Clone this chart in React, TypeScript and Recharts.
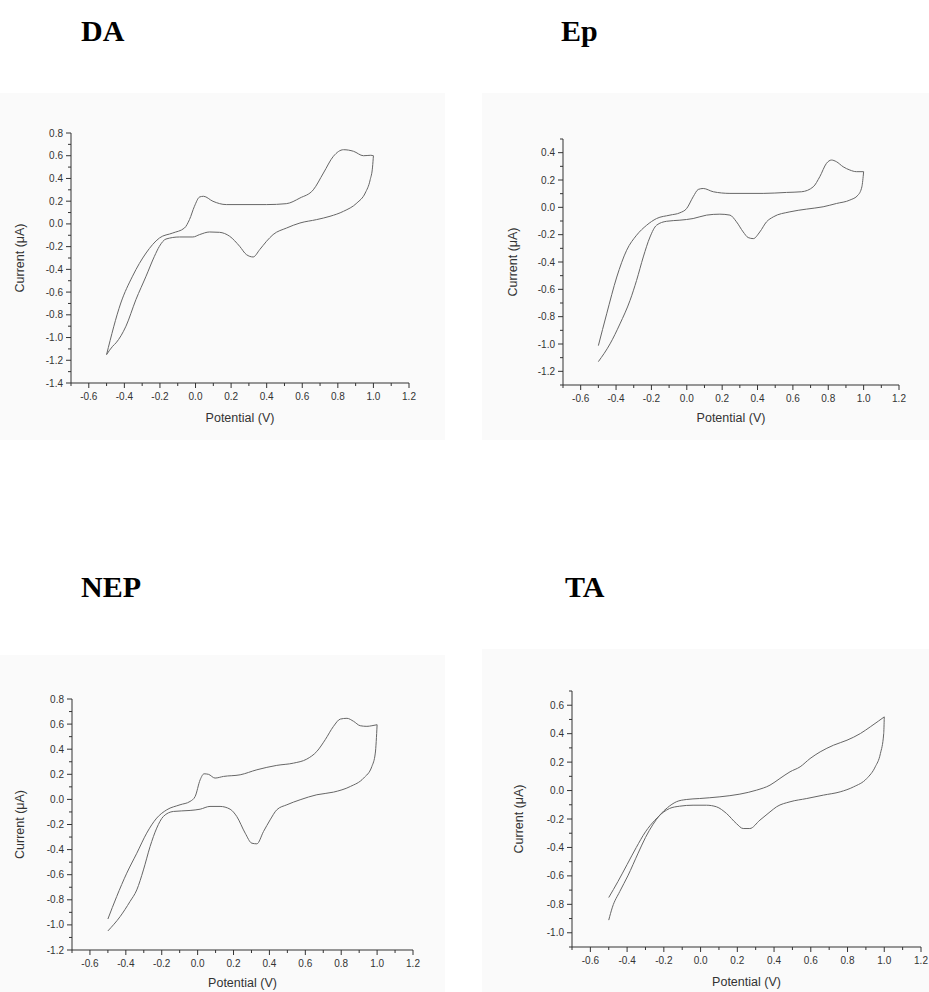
import React from 'react';
import { LineChart, Line, XAxis, YAxis, Label } from 'recharts';

// ---- shared axis ticks ----
const xTicks = [-0.7, -0.6, -0.5, -0.4, -0.3, -0.2, -0.1, 0, 0.1, 0.2, 0.3, 0.4, 0.5, 0.6, 0.7, 0.8, 0.9, 1.0, 1.1, 1.2];
const daYTicks = [-1.4, -1.3, -1.2, -1.1, -1.0, -0.9, -0.8, -0.7, -0.6, -0.5, -0.4, -0.3, -0.2, -0.1, 0, 0.1, 0.2, 0.3, 0.4, 0.5, 0.6, 0.7, 0.8];
const epYTicks = [-1.3, -1.2, -1.1, -1.0, -0.9, -0.8, -0.7, -0.6, -0.5, -0.4, -0.3, -0.2, -0.1, 0, 0.1, 0.2, 0.3, 0.4, 0.5];
const nepYTicks = [-1.2, -1.1, -1.0, -0.9, -0.8, -0.7, -0.6, -0.5, -0.4, -0.3, -0.2, -0.1, 0, 0.1, 0.2, 0.3, 0.4, 0.5, 0.6, 0.7, 0.8];
const taYTicks = [-1.1, -1.0, -0.9, -0.8, -0.7, -0.6, -0.5, -0.4, -0.3, -0.2, -0.1, 0, 0.1, 0.2, 0.3, 0.4, 0.5, 0.6, 0.7];

// ---- DA ----
const daFwdPotential = [-0.5, -0.42, -0.354, -0.278, -0.203, -0.128, -0.062, -0.034, -0.006, 0.023, 0.045, 0.098, 0.173, 0.4, 0.51, 0.587, 0.662, 0.719, 0.775, 0.832, 0.888, 0.944, 0.985, 1.0];
const daFwdCurrent = [-1.15, -0.696, -0.46, -0.256, -0.124, -0.08, -0.036, 0.038, 0.155, 0.237, 0.243, 0.199, 0.17, 0.17, 0.178, 0.228, 0.3, 0.448, 0.595, 0.653, 0.639, 0.6, 0.604, 0.6];
const daRevPotential = [-0.5, -0.466, -0.447, -0.391, -0.335, -0.278, -0.231, -0.203, -0.166, -0.09, -0.015, 0.023, 0.079, 0.135, 0.192, 0.248, 0.286, 0.324, 0.361, 0.399, 0.436, 0.512, 0.587, 0.681, 0.756, 0.832, 0.907, 0.954, 0.982, 0.995, 1.0];
const daRevCurrent = [-1.15, -1.077, -1.047, -0.9, -0.666, -0.46, -0.285, -0.197, -0.133, -0.115, -0.115, -0.094, -0.071, -0.074, -0.109, -0.197, -0.27, -0.291, -0.226, -0.153, -0.094, -0.036, 0.008, 0.038, 0.067, 0.111, 0.184, 0.272, 0.39, 0.5, 0.6];

// ---- Ep ----
const epFwdPotential = [-0.5, -0.453, -0.396, -0.34, -0.284, -0.227, -0.171, -0.095, -0.039, -0.001, 0.036, 0.065, 0.093, 0.15, 0.244, 0.432, 0.564, 0.649, 0.715, 0.752, 0.79, 0.818, 0.846, 0.884, 0.922, 0.959, 1.0];
const epFwdCurrent = [-1.012, -0.779, -0.51, -0.314, -0.204, -0.131, -0.082, -0.057, -0.04, -0.009, 0.077, 0.131, 0.138, 0.114, 0.102, 0.102, 0.109, 0.114, 0.15, 0.224, 0.322, 0.346, 0.334, 0.297, 0.273, 0.261, 0.261];
const epRevPotential = [-0.5, -0.434, -0.378, -0.321, -0.284, -0.246, -0.208, -0.171, -0.114, -0.039, 0.036, 0.112, 0.187, 0.244, 0.281, 0.319, 0.347, 0.376, 0.413, 0.451, 0.489, 0.583, 0.677, 0.771, 0.846, 0.922, 0.968, 0.99, 1.0];
const epRevCurrent = [-1.129, -0.999, -0.853, -0.681, -0.535, -0.363, -0.217, -0.131, -0.102, -0.094, -0.082, -0.057, -0.05, -0.057, -0.106, -0.18, -0.221, -0.229, -0.18, -0.106, -0.07, -0.033, -0.013, 0.004, 0.028, 0.053, 0.089, 0.15, 0.261];

// ---- NEP ----
const nepFwdPotential = [-0.5, -0.451, -0.395, -0.339, -0.284, -0.228, -0.172, -0.098, -0.042, -0.014, 0.014, 0.036, 0.06, 0.097, 0.144, 0.237, 0.33, 0.441, 0.534, 0.608, 0.664, 0.711, 0.757, 0.795, 0.832, 0.869, 0.906, 0.943, 0.971, 1.0];
const nepFwdCurrent = [-0.953, -0.774, -0.588, -0.429, -0.269, -0.149, -0.083, -0.043, -0.016, 0.023, 0.156, 0.204, 0.2, 0.17, 0.183, 0.196, 0.236, 0.271, 0.289, 0.321, 0.382, 0.476, 0.582, 0.64, 0.646, 0.622, 0.587, 0.582, 0.587, 0.595];
const nepRevPotential = [-0.5, -0.432, -0.377, -0.339, -0.302, -0.265, -0.228, -0.191, -0.135, -0.042, 0.014, 0.069, 0.125, 0.181, 0.218, 0.265, 0.302, 0.33, 0.367, 0.404, 0.441, 0.497, 0.571, 0.664, 0.757, 0.851, 0.925, 0.971, 0.99, 1.0];
const nepRevCurrent = [-1.048, -0.934, -0.814, -0.721, -0.562, -0.376, -0.229, -0.136, -0.096, -0.088, -0.078, -0.056, -0.056, -0.078, -0.136, -0.269, -0.349, -0.354, -0.256, -0.163, -0.083, -0.043, -0.003, 0.037, 0.058, 0.103, 0.17, 0.263, 0.369, 0.595];

// ---- TA ----
const taFwdPotential = [-0.5, -0.48, -0.44, -0.396, -0.34, -0.3, -0.26, -0.22, -0.18, -0.132, -0.078, -0.005, 0.105, 0.214, 0.305, 0.378, 0.432, 0.487, 0.542, 0.596, 0.651, 0.724, 0.797, 0.87, 0.924, 0.97, 1.0];
const taFwdCurrent = [-0.911, -0.82, -0.71, -0.6, -0.44, -0.33, -0.24, -0.17, -0.12, -0.079, -0.063, -0.056, -0.044, -0.025, 0.003, 0.038, 0.085, 0.132, 0.167, 0.225, 0.272, 0.319, 0.354, 0.401, 0.448, 0.49, 0.518];
const taRevPotential = [-0.5, -0.45, -0.4, -0.35, -0.3, -0.25, -0.2, -0.169, -0.114, -0.041, 0.032, 0.086, 0.141, 0.195, 0.232, 0.268, 0.323, 0.378, 0.414, 0.487, 0.578, 0.669, 0.76, 0.833, 0.905, 0.951, 0.979, 0.997, 1.0];
const taRevCurrent = [-0.752, -0.64, -0.52, -0.4, -0.29, -0.21, -0.15, -0.126, -0.11, -0.103, -0.103, -0.114, -0.161, -0.232, -0.267, -0.267, -0.208, -0.15, -0.114, -0.079, -0.056, -0.032, -0.009, 0.026, 0.085, 0.167, 0.26, 0.4, 0.518];

const toPoints = (xs: number[], ys: number[]) => xs.map((x, i) => ({ x, y: ys[i] }));

const AXIS = '#333';
const CURVE = '#666';
const TICK_FONT = 'Arial, "Liberation Sans", Helvetica, sans-serif';
const TS = 5;
const TM = 3;

const isMajor = (v: number) => Math.abs(v * 5 - Math.round(v * 5)) < 1e-6;
const fmt = (v: number) => (Math.abs(v) < 1e-9 ? 0 : v).toFixed(1);

const YTick = (props: any) => {
  const { x, y, payload } = props;
  const v = payload.value;
  const major = isMajor(v);
  const ax = x + TS + TM;
  return (
    <g>
      <line x1={ax - (major ? 5 : 3)} x2={ax} y1={y} y2={y} stroke={AXIS} strokeWidth={1} />
      {major && (
        <text x={x} y={y} dy={3.5} textAnchor="end" fontSize={10} fontFamily={TICK_FONT} fill="#333">
          {fmt(v)}
        </text>
      )}
    </g>
  );
};

const XTick = (props: any) => {
  const { x, y, payload } = props;
  const v = payload.value;
  const major = isMajor(v);
  const ay = y - TS - TM;
  return (
    <g>
      <line x1={x} x2={x} y1={ay} y2={ay + (major ? 5 : 3)} stroke={AXIS} strokeWidth={1} />
      {major && (
        <text x={x} y={y} dy={9} textAnchor="middle" fontSize={10} fontFamily={TICK_FONT} fill="#333">
          {fmt(v)}
        </text>
      )}
    </g>
  );
};

type PanelProps = {
  left: number;
  top: number;
  width: number;
  height: number;
  margin: { top: number; right: number; bottom: number; left: number };
  yAxisWidth: number;
  xAxisHeight: number;
  yLabelOffset: number;
  yDomain: [number, number];
  yTicks: number[];
  fwd: { x: number; y: number }[];
  rev: { x: number; y: number }[];
};

const Panel = (p: PanelProps) => (
  <div style={{ position: 'absolute', left: p.left, top: p.top, width: p.width, height: p.height }}>
    <LineChart width={p.width} height={p.height} margin={p.margin}>
      <XAxis
        dataKey="x"
        type="number"
        domain={[-0.7, 1.2]}
        allowDataOverflow
        ticks={xTicks}
        interval={0}
        tick={<XTick />}
        tickLine={false}
        tickSize={TS}
        tickMargin={TM}
        height={p.xAxisHeight}
        axisLine={{ stroke: AXIS, strokeWidth: 1 }}
      >
        <Label
          value="Potential (V)"
          position="insideBottom"
          offset={0}
          style={{ fontSize: 12.5, fontFamily: TICK_FONT, fill: '#333' }}
        />
      </XAxis>
      <YAxis
        dataKey="y"
        type="number"
        domain={p.yDomain}
        allowDataOverflow
        ticks={p.yTicks}
        interval={0}
        tick={<YTick />}
        tickLine={false}
        tickSize={TS}
        tickMargin={TM}
        width={p.yAxisWidth}
        axisLine={{ stroke: AXIS, strokeWidth: 1 }}
      >
        <Label
          value="Current (μA)"
          angle={-90}
          position="insideLeft"
          offset={p.yLabelOffset}
          style={{ textAnchor: 'middle', fontSize: 12.5, fontFamily: TICK_FONT, fill: '#333' }}
        />
      </YAxis>
      <Line data={p.fwd} dataKey="y" type="monotone" stroke={CURVE} strokeWidth={1} dot={false} activeDot={false} isAnimationActive={false} />
      <Line data={p.rev} dataKey="y" type="monotone" stroke={CURVE} strokeWidth={1} dot={false} activeDot={false} isAnimationActive={false} />
    </LineChart>
  </div>
);

const titles = [
  { text: 'DA', x: 81, y: 41 },
  { text: 'Ep', x: 561, y: 41 },
  { text: 'NEP', x: 81, y: 597 },
  { text: 'TA', x: 565, y: 597 },
];

export default function App() {
  return (
    <div style={{ position: 'absolute', left: 0, top: 0, width: 929, height: 992, background: '#fff', overflow: 'hidden' }}>
      <div style={{ position: 'absolute', left: 0, top: 93, width: 445, height: 347, background: '#fafafa' }} />
      <div style={{ position: 'absolute', left: 482, top: 93, width: 447, height: 347, background: '#fafafa' }} />
      <div style={{ position: 'absolute', left: 0, top: 655, width: 445, height: 337, background: '#fafafa' }} />
      <div style={{ position: 'absolute', left: 482, top: 649, width: 447, height: 343, background: '#fafafa' }} />
      <svg width={929} height={992} style={{ position: 'absolute', left: 0, top: 0 }}>
        {titles.map((t) => (
          <text key={t.text} x={t.x} y={t.y} fontFamily='"Liberation Serif", "Times New Roman", serif' fontWeight="bold" fontSize={30} fill="#000">
            {t.text}
          </text>
        ))}
      </svg>
      <Panel
        left={0}
        top={100}
        width={440}
        height={340}
        margin={{ top: 33, right: 31, bottom: 18, left: 5 }}
        yAxisWidth={66}
        xAxisHeight={39}
        yLabelOffset={15}
        yDomain={[-1.4, 0.8]}
        yTicks={daYTicks}
        fwd={toPoints(daFwdPotential, daFwdCurrent)}
        rev={toPoints(daRevPotential, daRevCurrent)}
      />
      <Panel
        left={480}
        top={100}
        width={449}
        height={340}
        margin={{ top: 39, right: 30, bottom: 18, left: 5 }}
        yAxisWidth={78}
        xAxisHeight={37}
        yLabelOffset={28}
        yDomain={[-1.3, 0.5]}
        yTicks={epYTicks}
        fwd={toPoints(epFwdPotential, epFwdCurrent)}
        rev={toPoints(epRevPotential, epRevCurrent)}
      />
      <Panel
        left={0}
        top={640}
        width={440}
        height={352}
        margin={{ top: 59, right: 27, bottom: 5, left: 5 }}
        yAxisWidth={67}
        xAxisHeight={37}
        yLabelOffset={15}
        yDomain={[-1.2, 0.8]}
        yTicks={nepYTicks}
        fwd={toPoints(nepFwdPotential, nepFwdCurrent)}
        rev={toPoints(nepRevPotential, nepRevCurrent)}
      />
      <Panel
        left={480}
        top={640}
        width={449}
        height={352}
        margin={{ top: 51, right: 8, bottom: 6, left: 5 }}
        yAxisWidth={87}
        xAxisHeight={39}
        yLabelOffset={34}
        yDomain={[-1.1, 0.7]}
        yTicks={taYTicks}
        fwd={toPoints(taFwdPotential, taFwdCurrent)}
        rev={toPoints(taRevPotential, taRevCurrent)}
      />
    </div>
  );
}
